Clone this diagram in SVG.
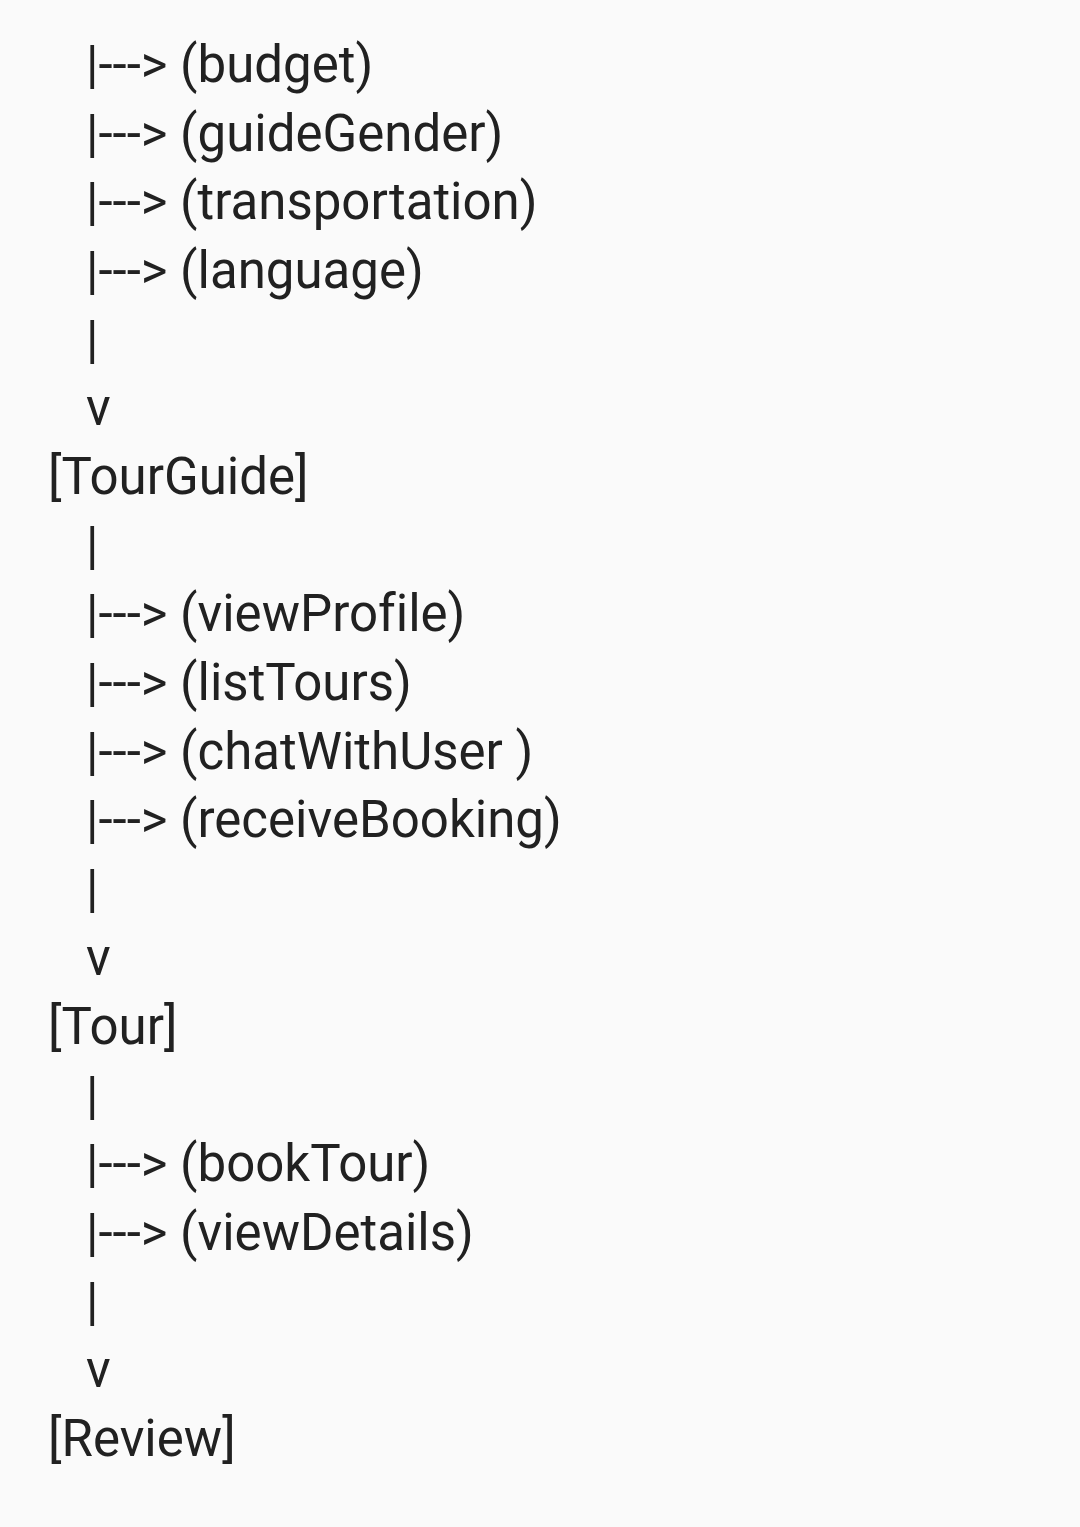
<svg xmlns="http://www.w3.org/2000/svg" width="1080" height="1527" viewBox="0 0 1080 1527">
<style>
text{font-family:Roboto,"Noto Sans",sans-serif;font-size:51px;fill:#212121;white-space:pre;font-variant-ligatures:none}
</style>
<rect width="1080" height="1527" fill="#fafafa"/>
<g id="connectors">
<text x="86" y="82">|---&gt; (budget)</text>
<text x="86" y="151">|---&gt; (guideGender)</text>
<text x="86" y="219">|---&gt; (transportation)</text>
<text x="86" y="288">|---&gt; (language)</text>
<text x="86" y="357">|</text>
<text x="86" y="425">v</text>
<text x="86" y="563">|</text>
<text x="86" y="631">|---&gt; (viewProfile)</text>
<text x="86" y="700">|---&gt; (listTours)</text>
<text x="86" y="769">|---&gt; (chatWithUser )</text>
<text x="86" y="837">|---&gt; (receiveBooking)</text>
<text x="86" y="906">|</text>
<text x="86" y="975">v</text>
<text x="86" y="1113">|</text>
<text x="86" y="1181">|---&gt; (bookTour)</text>
<text x="86" y="1250">|---&gt; (viewDetails)</text>
<text x="86" y="1319">|</text>
<text x="86" y="1387">v</text>
</g>
<g id="node-tourguide"><text x="48" y="494">[TourGuide]</text></g>
<g id="node-tour"><text x="48" y="1044">[Tour]</text></g>
<g id="node-review"><text x="48" y="1456">[Review]</text></g>
</svg>
